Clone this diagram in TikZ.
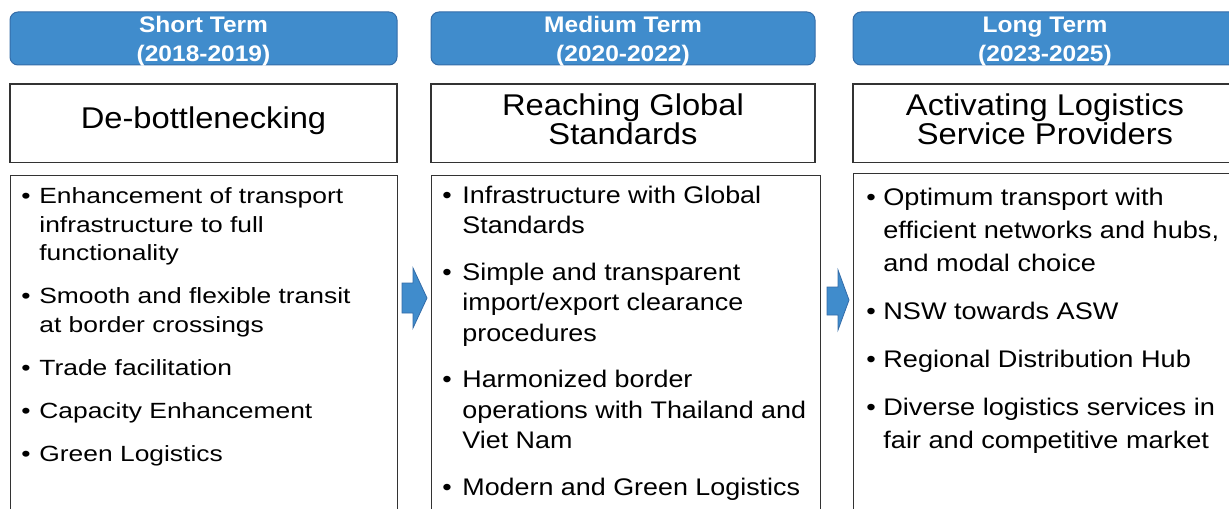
\documentclass[tikz,border=0pt]{standalone}
\usepackage{fontspec}
\setmainfont{Liberation Sans}
\usetikzlibrary{positioning}

\definecolor{termblue}{RGB}{64,140,204}
\definecolor{termedge}{RGB}{52,108,168}

% one pixel of the layout grid
\newcommand\unitpx{0.5pt}
% bullet item inside a \vtop list, bullet hangs in the left skip
\newcommand\bul{\par\noindent\llap{\hbox to\leftskip{\textbullet\hfil}}}

\tikzset{
	termbox/.style={draw=termedge, fill=termblue, line width=0.5pt, rounded corners=4pt,
		minimum width=384*\unitpx, minimum height=53*\unitpx, inner sep=0pt}, % period header
	termtext/.style={text=white, align=center, inner sep=0pt,
		font=\fontsize{11.25}{14.5}\selectfont\bfseries\addfontfeatures{FakeStretch=1.09}},
	goalbox/.style={draw=black!80, line width=0.7pt, minimum width=384*\unitpx, minimum height=78*\unitpx, inner sep=0pt},
	goaltext/.style={align=center, inner sep=0pt,
		font=\fontsize{15}{14.5}\selectfont\addfontfeatures{FakeStretch=1.09}},
	itembox/.style={draw=black!80, line width=0.7pt, anchor=north west, minimum height=400*\unitpx, inner sep=0pt},
	itemtext/.style={anchor=base west, inner sep=0pt},
	stagearrow/.style={draw=termedge, fill=termblue, line width=0.4pt},
	node distance=9pt,
}

\begin{document}
\begin{tikzpicture}[x=\unitpx, y=-\unitpx]
	\useasboundingbox (0,0) rectangle (1229,508);
	\clip (0,0) rectangle (1229,508);

	% period headers
	\node[termbox, minimum width=387*\unitpx] (h1) at (203.5,38.5) {};
	\node[termbox] (h2) at (623,38.5) {};
	\node[termbox] (h3) at (1045,38.5) {};
	\node[termtext] (h1t) at ([yshift=-1.5pt]h1.center) {Short Term\\(2018-2019)};
	\node[termtext] (h2t) at ([yshift=-1.5pt]h2.center) {Medium Term\\(2020-2022)};
	\node[termtext] (h3t) at ([yshift=-1.5pt]h3.center) {Long Term\\(2023-2025)};

	% goals
	\node[goalbox, minimum width=387*\unitpx, below=of h1] (g1) {};
	\node[goalbox, below=of h2] (g2) {};
	\node[goalbox, below=of h3] (g3) {};
	\node[goaltext] (g1t) at ([yshift=1pt]g1.center) {De-bottlenecking};
	\node[goaltext] (g2t) at ([yshift=2pt]g2.center) {Reaching Global\\Standards};
	\node[goaltext] (g3t) at ([yshift=2pt]g3.center) {Activating Logistics\\Service Providers};

	% measures
	\node[itembox, minimum width=387*\unitpx] (c1) at (10,175) {};
	\node[itembox, minimum width=389*\unitpx] (c2) at (431,175) {};
	\node[itembox, minimum width=390*\unitpx] (c3) at (853,173) {};

	\node[itemtext] (l1) at (21,203.5) {\vtop{\hsize=380\unitpx
		\fontsize{11}{14.25}\selectfont\addfontfeatures{FakeStretch=1.2}\leftskip=9pt\parskip=7.25pt
		\bul Enhancement of transport\newline infrastructure to full\newline functionality
		\bul Smooth and flexible transit\newline at border crossings
		\bul Trade facilitation
		\bul Capacity Enhancement
		\bul Green Logistics\par}};
	\node[itemtext] (l2) at (442,203) {\vtop{\hsize=380\unitpx
		\fontsize{12}{15.25}\selectfont\addfontfeatures{FakeStretch=1.12}\leftskip=10pt\parskip=8pt
		\bul Infrastructure with Global\newline Standards
		\bul Simple and transparent\newline import/export clearance\newline procedures
		\bul Harmonized border\newline operations with Thailand and\newline Viet Nam
		\bul Modern and Green Logistics\par}};
	\node[itemtext] (l3) at (866,205) {\vtop{\hsize=380\unitpx
		\fontsize{12}{16.5}\selectfont\addfontfeatures{FakeStretch=1.13}\leftskip=8.5pt\parskip=7.5pt
		\bul Optimum transport with\newline efficient networks and hubs,\newline and modal choice
		\bul NSW towards ASW
		\bul Regional Distribution Hub
		\bul Diverse logistics services in\newline fair and competitive market\par}};

	% stage arrows between the columns
	\draw[stagearrow] (402,283) -- (413,283) -- (413,268) -- (427,298) -- (413,328) -- (413,313) -- (402,313) -- cycle;
	\draw[stagearrow] (827,287) -- (838,287) -- (838,270) -- (849,300) -- (838,330) -- (838,315) -- (827,315) -- cycle;
\end{tikzpicture}
\end{document}
